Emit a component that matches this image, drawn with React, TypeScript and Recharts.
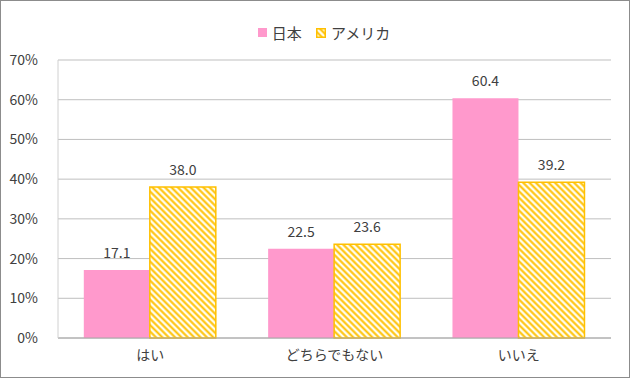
import { BarChart, Bar, XAxis, YAxis, CartesianGrid, LabelList } from 'recharts'

const categories = ['はい', 'どちらでもない', 'いいえ']
const japan = [17.1, 22.5, 60.4]
const usa = [38.0, 23.6, 39.2]
const yTicks = [0, 10, 20, 30, 40, 50, 60, 70]

const PINK = '#ff99cc'
const GOLD = '#ffc000'
const TEXT = '#404040'
const FONT = '"Noto Sans CJK JP", "Noto Sans", sans-serif'

const data = categories.map((name, i) => ({ name, japan: japan[i], usa: usa[i] }))

function HatchDefs({ id }: { id: string }) {
  return (
    <pattern id={id} patternUnits="userSpaceOnUse" width="4.5" height="4.5" patternTransform="rotate(45)">
      <rect width="4.5" height="4.5" fill="#fffdf0" />
      <line x1="0" y1="2.25" x2="4.5" y2="2.25" stroke={GOLD} strokeWidth="2" />
    </pattern>
  )
}

function Legend() {
  return (
    <div
      style={{
        position: 'absolute',
        top: 21,
        left: 0,
        width: '100%',
        boxSizing: 'border-box',
        paddingLeft: 18,
        display: 'flex',
        justifyContent: 'center',
        gap: 14,
        fontFamily: FONT,
        fontSize: 15,
        color: TEXT,
      }}
    >
      <span style={{ display: 'flex', alignItems: 'center', gap: 5 }}>
        <span style={{ width: 9, height: 9, background: PINK, display: 'inline-block' }} />
        日本
      </span>
      <span style={{ display: 'flex', alignItems: 'center', gap: 5 }}>
        <svg width={10} height={10}>
          <defs>
            <HatchDefs id="legendHatch" />
          </defs>
          <rect x={0.75} y={0.75} width={8.5} height={8.5} fill="url(#legendHatch)" stroke={GOLD} strokeWidth={1.5} />
        </svg>
        アメリカ
      </span>
    </div>
  )
}

export default function App() {
  return (
    <div
      style={{
        position: 'relative',
        width: 630,
        height: 378,
        boxSizing: 'border-box',
        border: '1px solid #8c8c8c',
        background: '#fff',
      }}
    >
      <style>{'body{margin:0}'}</style>
      <Legend />
      <BarChart
        width={628}
        height={376}
        data={data}
        margin={{ top: 59, right: 18, left: 0, bottom: 9 }}
        barCategoryGap="14%"
        barGap={0}
      >
        <defs>
          <HatchDefs id="usaHatch" />
        </defs>
        <CartesianGrid vertical={false} stroke="#bfbfbf" />
        <XAxis
          dataKey="name"
          height={30}
          axisLine={{ stroke: '#a6a6a6' }}
          tickLine={false}
          tick={{ fill: TEXT, fontSize: 14, fontFamily: FONT }}
          tickMargin={6}
        />
        <YAxis
          width={57}
          domain={[0, 70]}
          ticks={yTicks}
          axisLine={{ stroke: '#d0d0d0' }}
          tickLine={false}
          tick={{ fill: TEXT, fontSize: 14, fontFamily: FONT }}
          tickFormatter={(v: number) => `${v}%`}
          tickMargin={14}
        />
        <Bar dataKey="japan" fill={PINK} isAnimationActive={false}>
          <LabelList
            dataKey="japan"
            position="top"
            offset={12}
            fill={TEXT}
            fontSize={14}
            fontFamily={FONT}
            formatter={(v: number) => v.toFixed(1)}
          />
        </Bar>
        <Bar dataKey="usa" fill="url(#usaHatch)" stroke={GOLD} strokeWidth={1.5} isAnimationActive={false}>
          <LabelList
            dataKey="usa"
            position="top"
            offset={12}
            fill={TEXT}
            fontSize={14}
            fontFamily={FONT}
            formatter={(v: number) => v.toFixed(1)}
          />
        </Bar>
      </BarChart>
    </div>
  )
}
